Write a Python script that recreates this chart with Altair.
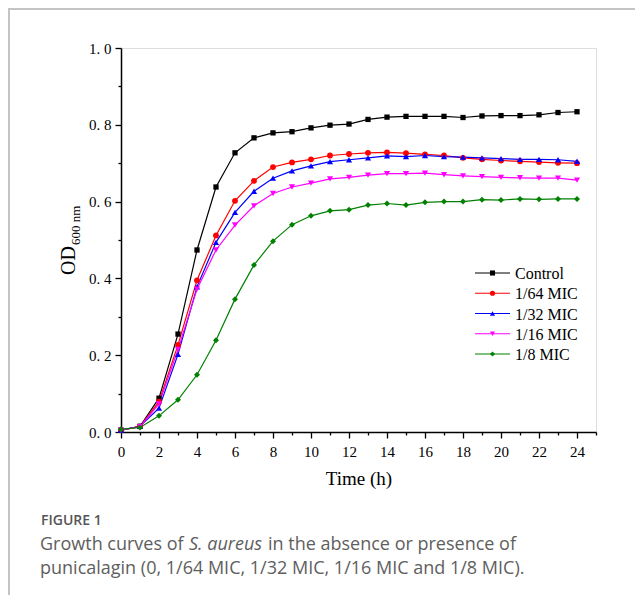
import altair as alt
import pandas as pd

# ---------------- data ----------------
hours = list(range(25))
series_names = ["Control", "1/64 MIC", "1/32 MIC", "1/16 MIC", "1/8 MIC"]
control = [0.005, 0.015, 0.088, 0.255, 0.474, 0.638, 0.727, 0.766, 0.779, 0.782, 0.792, 0.799, 0.802,
           0.814, 0.820, 0.822, 0.822, 0.822, 0.819, 0.823, 0.824, 0.824, 0.826, 0.832, 0.834]
mic_1_64 = [0.005, 0.014, 0.079, 0.227, 0.395, 0.512, 0.602, 0.654, 0.690, 0.702, 0.710, 0.720, 0.724,
            0.727, 0.728, 0.726, 0.723, 0.720, 0.714, 0.710, 0.707, 0.705, 0.703, 0.701, 0.700]
mic_1_32 = [0.005, 0.015, 0.062, 0.202, 0.378, 0.494, 0.572, 0.627, 0.661, 0.680, 0.693, 0.704, 0.709,
            0.714, 0.719, 0.717, 0.720, 0.717, 0.716, 0.714, 0.712, 0.710, 0.710, 0.709, 0.705]
mic_1_16 = [0.005, 0.014, 0.073, 0.215, 0.372, 0.474, 0.539, 0.589, 0.621, 0.638, 0.648, 0.659, 0.663,
            0.669, 0.673, 0.673, 0.674, 0.670, 0.667, 0.665, 0.663, 0.662, 0.661, 0.661, 0.656]
mic_1_8 = [0.007, 0.012, 0.042, 0.084, 0.149, 0.239, 0.346, 0.435, 0.497, 0.540, 0.563, 0.576, 0.579,
           0.591, 0.595, 0.591, 0.598, 0.600, 0.600, 0.605, 0.604, 0.607, 0.606, 0.607, 0.607]
x_major = list(range(0, 25, 2))
x_minor = list(range(1, 26, 2))
y_major = [0.0, 0.2, 0.4, 0.6, 0.8, 1.0]
y_minor = [0.1, 0.3, 0.5, 0.7, 0.9]

colors = ["#000000", "#ff0000", "#0000ff", "#ff00ff", "#008000"]
shapes = ["square", "circle", "triangle-up", "triangle-down", "diamond"]
marker_sizes = [28, 34, 38, 38, 36]

rows = []
for name, vals in zip(series_names, [control, mic_1_64, mic_1_32, mic_1_16, mic_1_8]):
    for t, v in zip(hours, vals):
        rows.append({"Time": t, "OD": v, "Group": name})
df = pd.DataFrame(rows)
legend_df = pd.DataFrame({"Group": series_names})

SERIF = "Liberation Serif"
SANS = "Open Sans"

color_scale = alt.Scale(domain=series_names, range=colors)
shape_scale = alt.Scale(domain=series_names, range=shapes)
xscale = alt.Scale(domain=[0, 25], nice=False)
yscale = alt.Scale(domain=[0, 1], nice=False)

label_expr = "replace(format(datum.value, '.1f'), '.', '. ')"

base = alt.Chart(df)

lines = base.mark_line(strokeWidth=1.2).encode(
    x=alt.X("Time:Q", scale=xscale,
            axis=alt.Axis(values=x_major, orient="bottom", tickSize=6, tickWidth=1.3, tickColor="black",
                          domainColor="black", domainWidth=1.5, grid=False, labelFont=SERIF,
                          labelFontSize=15, labelColor="black", labelPadding=6, labelFlush=False,
                          title="Time (h)", titleFont=SERIF, titleFontSize=19, titleFontWeight="normal",
                          titleColor="black", titlePadding=10)),
    y=alt.Y("OD:Q", scale=yscale,
            axis=alt.Axis(values=y_major, orient="left", tickSize=6, tickWidth=1.3, tickColor="black",
                          domainColor="black", domainWidth=1.5, grid=False, labelFont=SERIF,
                          labelFontSize=15, labelColor="black", labelPadding=4, labelExpr=label_expr,
                          labelFlush=False, title=None)),
    color=alt.Color("Group:N", scale=color_scale, legend=None),
    detail="Group:N",
    order="Time:Q",
)

point_layers = []
for i, (name, shp, sz) in enumerate(zip(series_names, shapes, marker_sizes)):
    if i == 0:
        xax = alt.Axis(values=x_minor, orient="bottom", tickSize=3, tickWidth=1.3, tickColor="black",
                       domain=False, labels=False, grid=False, title=None)
        yax = alt.Axis(values=y_minor, orient="left", tickSize=3, tickWidth=1.3, tickColor="black",
                       domain=False, labels=False, grid=False, title=None)
    else:
        xax = None
        yax = None
    point_layers.append(
        base.transform_filter(alt.datum.Group == name).mark_point(
            filled=True, shape=shp, size=sz, opacity=1).encode(
            x=alt.X("Time:Q", scale=xscale, axis=xax),
            y=alt.Y("OD:Q", scale=yscale, axis=yax),
            color=alt.Color("Group:N", scale=color_scale, legend=None),
        )
    )

# ---- legend drawn as marks (line + marker + label per entry) ----
leg_y = alt.Y("Group:N", scale=alt.Scale(type="point", domain=series_names, range=[225, 306], padding=0),
              axis=None)
leg_base = alt.Chart(legend_df)
leg_lines = leg_base.mark_rule(strokeWidth=1.2).encode(
    x=alt.value(354), x2=alt.value(389), y=leg_y,
    color=alt.Color("Group:N", scale=color_scale, legend=None))
leg_marks = leg_base.mark_point(filled=True, size=26, opacity=1).encode(
    x=alt.value(371.5), y=leg_y,
    color=alt.Color("Group:N", scale=color_scale, legend=None),
    shape=alt.Shape("Group:N", scale=shape_scale, legend=None))
leg_text = leg_base.mark_text(align="left", baseline="middle", font=SERIF, fontSize=16,
                              color="black", dy=1).encode(
    x=alt.value(394), y=leg_y, text="Group:N")


def txt(s, x, y, **kw):
    return alt.Chart(alt.Data(values=[{}])).mark_text(text=s, **kw).encode(
        x=alt.value(x), y=alt.value(y))


def rule(**enc):
    return alt.Chart(alt.Data(values=[{}])).mark_rule(color="#c4c4c4", strokeWidth=2).encode(
        **{k: alt.value(v) for k, v in enc.items()})


ytitle_od = txt("OD", -46, 227, angle=270, align="left", baseline="alphabetic",
                font=SERIF, fontSize=20, color="black")
ytitle_sub = txt("600 nm", -41, 197, angle=270, align="left", baseline="alphabetic",
                 font=SERIF, fontSize=13, color="black")

cap_color = "#5e5e5e"
fig_label = txt("FIGURE 1", -80, 477, align="left", baseline="alphabetic", font=SANS,
                fontSize=14, fontWeight=600, color="#555555")
cap1a = txt("Growth curves of", -81, 502, align="left", baseline="alphabetic", font=SANS,
            fontSize=18, color=cap_color)
cap1b = txt("S. aureus", 68, 502, align="left", baseline="alphabetic", font=SANS,
            fontSize=18, fontStyle="italic", color=cap_color)
cap1c = txt("in the absence or presence of", 147, 502, align="left", baseline="alphabetic",
            font=SANS, fontSize=18, color=cap_color)
cap2 = txt("punicalagin (0, 1/64 MIC, 1/32 MIC, 1/16 MIC and 1/8 MIC).", -81, 526, align="left",
           baseline="alphabetic", font=SANS, fontSize=18, color=cap_color)

frame_top = rule(x=-113, x2=514, y=-39)
frame_left = rule(x=-112, y=-40, y2=547)

chart = alt.layer(
    lines, *point_layers, leg_lines, leg_marks, leg_text,
    ytitle_od, ytitle_sub, fig_label, cap1a, cap1b, cap1c, cap2, frame_top, frame_left
).resolve_scale(
    y="independent", shape="independent"
).resolve_axis(
    x="independent", y="independent"
).properties(
    width=475, height=384,
    autosize=alt.AutoSizeParams(type="none"),
    padding={"left": 113, "top": 40, "right": 39, "bottom": 163},
).configure_view(stroke=None).configure(background="white")

chart.save("out.html", embed_options={"renderer": "svg", "actions": False})
